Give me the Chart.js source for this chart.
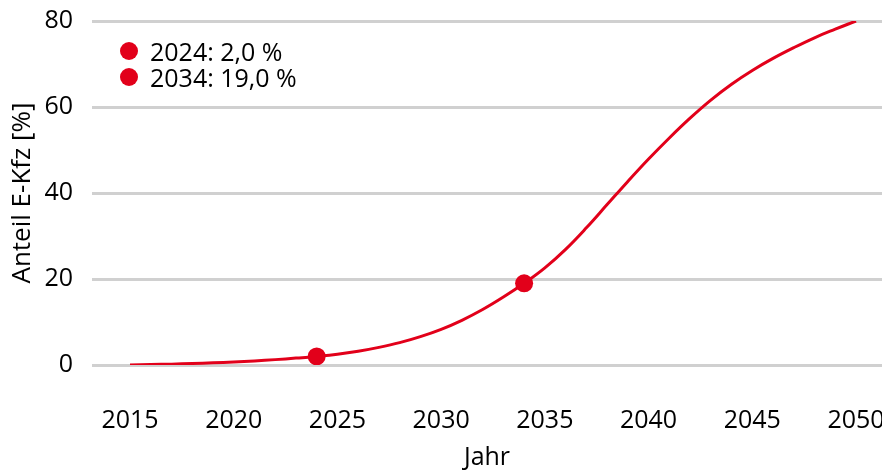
<!DOCTYPE html>
<html lang="de">
<head>
<meta charset="utf-8">
<title>Anteil E-Kfz</title>
<script src="https://cdn.jsdelivr.net/npm/chart.js@4"></script>
<style>
  html, body { margin: 0; padding: 0; background: #fff; }
  #wrap { position: relative; width: 882px; height: 473px; }
  #legend {
    position: absolute; left: 120px; top: 38px;
    font-family: 'Open Sans', sans-serif; font-size: 25px; color: #000;
  }
  #legend div { display: flex; align-items: center; height: 26px; }
  #legend span.dot {
    display: inline-block; width: 18px; height: 18px; border-radius: 50%;
    background: #e2001a; margin-right: 12px;
  }
</style>
</head>
<body>
<div id="wrap">
  <canvas id="ekfz"></canvas>
  <div id="legend"></div>
</div>
<script>
// Hochlaufkurve Anteil E-Kfz
const years = [2015, 2016, 2017, 2018, 2019, 2020, 2021, 2022, 2023, 2024,
  2025, 2026, 2027, 2028, 2029, 2030, 2031, 2032, 2033, 2034,
  2035, 2036, 2037, 2038, 2039, 2040, 2041, 2042, 2043, 2044,
  2045, 2046, 2047, 2048, 2049, 2050];
const share = [0, 0.1, 0.2, 0.35, 0.5, 0.7, 0.95, 1.25, 1.6, 2.0,
  2.5, 3.2, 4.1, 5.2, 6.6, 8.3, 10.4, 12.9, 15.8, 19.0,
  22.6, 26.9, 31.9, 37.3, 42.7, 47.9, 52.8, 57.4, 61.6, 65.3,
  68.5, 71.3, 73.8, 76.1, 78.1, 80.0];

// markierte Jahre
const markYears = [2024, 2034];
const markShare = [2.0, 19.0];

const xTicks = [2015, 2020, 2025, 2030, 2035, 2040, 2045, 2050];
const yTicks = [0, 20, 40, 60, 80];

const red = '#e2001a';
const font = { family: "'Open Sans', sans-serif", size: 25 };

const ctx = document.getElementById('ekfz').getContext('2d');
const chart = new Chart(ctx, {
  type: 'line',
  data: {
    datasets: [{
      label: 'Markierung',
      data: markYears.map((y, i) => ({ x: y, y: markShare[i] })),
      showLine: false,
      pointRadius: 9,
      pointHoverRadius: 9,
      pointBackgroundColor: red,
      pointBorderWidth: 0,
      order: 0
    }, {
      label: 'Anteil E-Kfz',
      data: years.map((y, i) => ({ x: y, y: share[i] })),
      borderColor: red,
      borderWidth: 3,
      pointRadius: 0,
      tension: 0.4,
      order: 1
    }]
  },
  options: {
    responsive: true,
    maintainAspectRatio: false,
    animation: false,
    // kein Auto-Padding, sonst schrumpft die Fläche rechts wegen der Punkte
    layout: { autoPadding: false, padding: { top: 21, left: 0, right: 0, bottom: 0 } },
    plugins: {
      legend: { display: false },
      tooltip: { enabled: false }
    },
    scales: {
      x: {
        type: 'linear',
        min: 2013.168,
        max: 2051.253,
        grid: { display: false },
        border: { display: false },
        afterBuildTicks: scale => { scale.ticks = xTicks.map(v => ({ value: v })); },
        afterFit: scale => { scale.height = 108; scale.paddingLeft = 0; scale.paddingRight = 0; },
        ticks: {
          padding: 33,
          maxRotation: 0,
          color: '#000',
          font: font,
          callback: v => String(v)
        },
        title: {
          display: true,
          text: 'Jahr',
          color: '#000',
          font: font,
          padding: { top: 0, bottom: 0 }
        }
      },
      y: {
        min: 0,
        max: 80,
        grid: { color: '#d0d0d0', lineWidth: 3, drawTicks: false },
        border: { display: false },
        afterBuildTicks: scale => { scale.ticks = yTicks.map(v => ({ value: v })); },
        afterFit: scale => { scale.width = 92; scale.paddingTop = 0; scale.paddingBottom = 0; },
        ticks: {
          padding: 19,
          color: '#000',
          font: font
        },
        title: {
          display: true,
          text: 'Anteil E-Kfz [%]',
          color: '#000',
          font: { family: font.family, size: 26 },
          padding: { top: 7, bottom: 0 }
        }
      }
    }
  }
});

const legend = document.getElementById('legend');
legend.innerHTML = markYears.map((y, i) =>
  `<div><span class="dot"></span><span>${y}: ${markShare[i].toLocaleString('de-DE', { minimumFractionDigits: 1, maximumFractionDigits: 1 })} %</span></div>`
).join('');
</script>
</body>
</html>
